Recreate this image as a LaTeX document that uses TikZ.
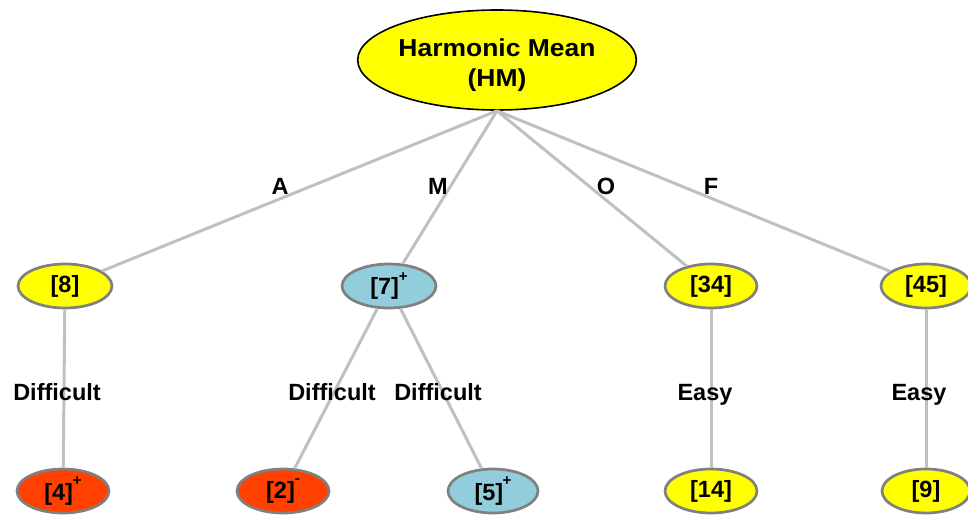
\documentclass[tikz,border=0pt]{standalone}
\usepackage{fontspec}
\setmainfont{Liberation Sans}
\newfontfamily\rootfont{Liberation Sans}[FakeStretch=1.08]
\usetikzlibrary{shapes.geometric}
\definecolor{nyellow}{RGB}{255,255,0}
\definecolor{nblue}{RGB}{146,205,220}
\definecolor{nred}{RGB}{255,64,0}
\definecolor{nborder}{RGB}{128,128,128}
\definecolor{nedge}{RGB}{192,192,192}
\newcommand{\spx}[1]{\raisebox{13pt}{\fontsize{15}{15}\selectfont #1}}
\begin{document}
\begin{tikzpicture}[x=1pt,y=-1pt,
  every node/.style={font=\bfseries\fontsize{23.5}{28}\selectfont, text=black},
  rootnode/.style={ellipse, draw=black, line width=1.6pt, fill=nyellow, minimum width=260pt, minimum height=100pt, inner sep=0pt, font=\rootfont\bfseries\fontsize{24.5}{30}\selectfont},
  leaf/.style={ellipse, draw=nborder, line width=2.7pt, minimum width=92pt, minimum height=44pt, inner sep=0pt},
  yel/.style={leaf, fill=nyellow},
  blu/.style={leaf, fill=nblue},
  red/.style={leaf, fill=nred},
  conn/.style={draw=nedge, line width=3pt},
  lbl/.style={anchor=base, inner sep=0pt}
]
\useasboundingbox (0,0) rectangle (968,516);
% root
\node[rootnode] (root) at (497,60) {\raisebox{-12pt}[15pt][15pt]{\begin{tabular}{@{}c@{}}Harmonic Mean\\(HM)\end{tabular}}};
% level 2
\node[yel, minimum width=94pt] (n8) at (65,286) {[8]};
\node[blu, minimum width=94pt] (n7) at (389,286) {[7]\spx{+}};
\node[yel] (n34) at (711,286) {[34]};
\node[yel, minimum width=90pt] (n45) at (926,286) {[45]};
% level 3
\node[red] (n4) at (63,491) {\raisebox{-2pt}{[4]}\spx{+}};
\node[red] (n2) at (283,491) {\raisebox{-2pt}{[2]}\spx{-}};
\node[blu, minimum width=90pt] (n5) at (493,491) {\raisebox{-2pt}{[5]}\kern-0.5pt\spx{+}};
\node[yel] (n14) at (711,491) {[14]};
\node[yel, minimum width=88pt] (n9) at (926,491) {[9]};
% connectors
\coordinate (hub) at (root.south);
\draw[conn] (hub) -- (n8);
\draw[conn] (hub) -- (n7);
\draw[conn] (hub) -- (n34);
\draw[conn] (hub) -- (n45);
\draw[conn] (n8) -- (n4);
\draw[conn] (n7) -- (n2);
\draw[conn] (n7) -- (n5);
\draw[conn] (n34) -- (n14);
\draw[conn] (n45) -- (n9);
% labels
\node[lbl] (lA) at (280,194) {A};
\node[lbl] (lM) at (438,194) {M};
\node[lbl] (lO) at (606,194) {O};
\node[lbl] (lF) at (711,194) {F};
\node[lbl] (d1) at (57,400) {Difficult};
\node[lbl] (d2) at (332,400) {Difficult};
\node[lbl] (d3) at (438,400) {Difficult};
\node[lbl] (e1) at (705,400) {Easy};
\node[lbl] (e2) at (919,400) {Easy};
\end{tikzpicture}
\end{document}
